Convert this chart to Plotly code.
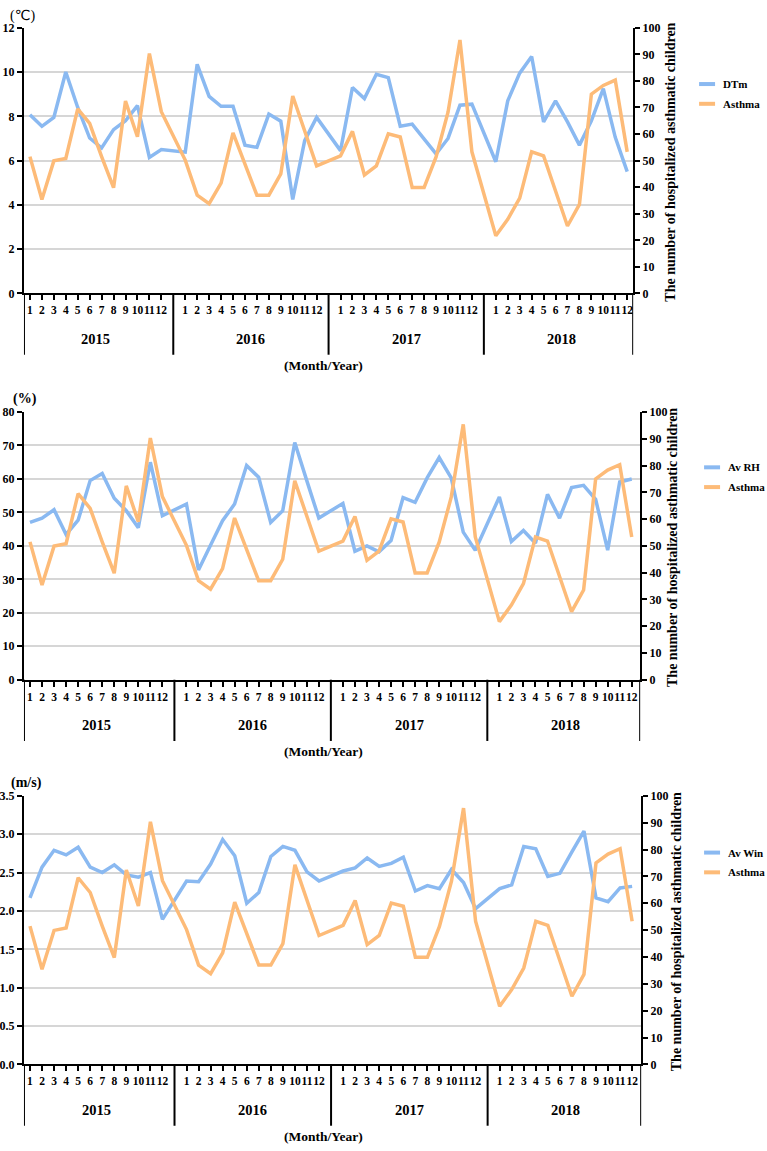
import plotly.graph_objects as go

# ---------------- data ----------------
years = [2015, 2016, 2017, 2018]
months = list(range(1, 13))

dtm = [8.07, 7.55, 7.95, 10.0, 8.4, 7.02, 6.57, 7.4, 7.8, 8.48, 6.14, 6.5,
       6.38, 10.35, 8.9, 8.45, 8.45, 6.7, 6.6, 8.1, 7.78, 4.25, 6.9, 7.95,
       6.45, 9.3, 8.8, 9.9, 9.75, 7.55, 7.65, 7.0, 6.3, 7.0, 8.5, 8.55,
       5.95, 8.7, 9.95, 10.7, 7.75, 8.7, 7.75, 6.7, 7.8, 9.25, 7.05, 5.5]

rh = [47.0, 48.3, 50.8, 43.4, 47.7, 59.5, 61.6, 54.2, 50.5, 45.4, 65.0, 49.0,
      52.5, 32.8, 40.2, 47.5, 52.5, 64.0, 60.5, 47.0, 50.5, 70.9, 59.5, 48.3,
      52.7, 38.4, 40.0, 38.2, 41.6, 54.4, 53.0, 60.3, 66.4, 60.3, 44.1, 38.7,
      54.6, 41.3, 44.6, 40.8, 55.4, 48.3, 57.4, 58.1, 53.9, 38.7, 59.1, 60.0]

win = [2.17, 2.57, 2.79, 2.73, 2.83, 2.57, 2.50, 2.60, 2.47, 2.44, 2.50, 1.89,
       2.39, 2.38, 2.61, 2.93, 2.72, 2.10, 2.24, 2.71, 2.84, 2.79, 2.51, 2.39,
       2.52, 2.56, 2.69, 2.58, 2.62, 2.70, 2.26, 2.33, 2.29, 2.54, 2.37, 2.03,
       2.29, 2.34, 2.84, 2.81, 2.45, 2.49, 2.77, 3.04, 2.17, 2.12, 2.30, 2.32]

asthma = [51.5, 35.4, 49.9, 50.8, 69.5, 64.0, 51.5, 39.8, 72.4, 59.0, 90.3, 68.4,
          50.2, 37.0, 33.8, 41.5, 60.4, 49.0, 37.0, 37.0, 45.0, 74.3, 61.5, 48.0,
          51.8, 61.0, 44.6, 48.0, 60.1, 58.9, 39.9, 39.9, 51.4, 68.2, 95.4, 53.3,
          21.7, 27.9, 35.9, 53.3, 51.8, 38.4, 25.4, 33.5, 75.0, 78.3, 80.3, 53.3]

series_names = ["DTm", "Av RH", "Av Win"]
unit_labels = ["(℃)", "(%)", "(m/s)"]
asthma_name = "Asthma"
right_title = "The number of hospitalized asthmatic children"
x_title = "(Month/Year)"

# ---------------- styling / layout ----------------
W, H = 767, 1151
FONT = "'Liberation Serif', 'Times New Roman', Times, serif"
BLUE = "#8AB9F1"
ORANGE = "#FDBB78"
GRID = "#D6D6D6"

SLOTS_PER_YEAR = 13  # 12 months + one empty slot between years
xpos = [yi * SLOTS_PER_YEAR + (m - 1) for yi in range(len(years)) for m in months]
month_text = [str(m) for _ in years for m in months]


def py(p):
    return 1 - p / H


def pxx(p):
    return p / W


panels = [
    dict(vals=dtm, yr=[0, 12], dtick=2, fmt="", top=21, bot=290, left=23, right=633,
         xmax=50.5, unit_xy=(22, 9), leg_y=(78, 98), leg_x=699, title_x=670),
    dict(vals=rh, yr=[0, 80], dtick=10, fmt="", top=410, bot=681, left=23, right=640,
         xmax=50.7, unit_xy=(24, 397), leg_y=(466, 486), leg_x=704, title_x=673),
    dict(vals=win, yr=[0, 3.5], dtick=0.5, fmt=".1f", top=798.5, bot=1070.5, left=23, right=641,
         xmax=50.75, unit_xy=(26, 786), leg_y=(856, 876), leg_x=704, title_x=676),
]

fig = go.Figure()
layout = dict(width=W, height=H, autosize=False,
              margin=dict(l=0, r=0, t=0, b=0),
              paper_bgcolor="white", plot_bgcolor="white",
              font=dict(family=FONT, color="black"),
              showlegend=False, shapes=[], annotations=[])

tickfont = dict(family=FONT, size=12, color="black", weight="bold")

for i, p in enumerate(panels):
    xn = "" if i == 0 else str(i + 1)
    yl = str(2 * i + 1) if i > 0 else ""
    yr_ = str(2 * i + 2)
    xaxis_key = "xaxis" + xn
    yl_key = "yaxis" + yl
    yr_key = "yaxis" + yr_
    xref = "x" + xn
    ylref = "y" + yl
    yrref = "y" + yr_

    fig.add_trace(go.Scatter(x=xpos, y=p["vals"], mode="lines", name=series_names[i],
                             line=dict(color=BLUE, width=3.5),
                             xaxis=xref, yaxis=ylref))
    fig.add_trace(go.Scatter(x=xpos, y=asthma, mode="lines", name=asthma_name,
                             line=dict(color=ORANGE, width=3.5),
                             xaxis=xref, yaxis=yrref))

    ydom = [py(p["bot"]), py(p["top"])]
    layout[xaxis_key] = dict(domain=[pxx(p["left"]), pxx(p["right"])],
                             range=[-0.5, p["xmax"]], anchor=ylref,
                             tickmode="array", tickvals=xpos, ticktext=month_text,
                             tickangle=0, ticks="outside", ticklen=5, tickwidth=2,
                             tickcolor="black", showline=True, linecolor="black",
                             linewidth=2, showgrid=False, zeroline=False,
                             tickfont=dict(family=FONT, size=11.5, color="black", weight="bold"))
    layout[yl_key] = dict(domain=ydom, range=p["yr"], dtick=p["dtick"], tick0=0,
                          tickformat=p["fmt"], anchor=xref, side="left",
                          ticks="outside", ticklen=5, tickwidth=2, tickcolor="black",
                          showline=True, linecolor="black", linewidth=2,
                          showgrid=True, gridcolor=GRID, gridwidth=1.5,
                          zeroline=False, tickfont=tickfont)
    layout[yr_key] = dict(domain=ydom, range=[0, 100], dtick=10, tick0=0,
                          anchor=xref, overlaying=ylref, side="right",
                          ticks="outside", ticklen=5, tickwidth=2, tickcolor="black",
                          showline=True, linecolor="black", linewidth=2,
                          showgrid=False, zeroline=False, tickfont=tickfont)

    # year brackets
    xmin, xmax = -0.5, p["xmax"]
    seps = [xmin] + [yi * SLOTS_PER_YEAR - 1 for yi in range(1, len(years))] + [xmax]
    for sx in seps:
        layout["shapes"].append(dict(type="line", xref=xref, yref="paper",
                                     x0=sx, x1=sx, y0=py(p["bot"]), y1=py(p["bot"] + 62),
                                     line=dict(color="black", width=2)))
    for yi, yv in enumerate(years):
        layout["annotations"].append(dict(xref=xref, yref="paper",
                                          x=yi * SLOTS_PER_YEAR + 5.5, y=py(p["bot"] + 46),
                                          text=str(yv), showarrow=False,
                                          xanchor="center", yanchor="middle",
                                          font=dict(family=FONT, size=14.5, color="black", weight="bold")))
    layout["annotations"].append(dict(xref="paper", yref="paper",
                                      x=pxx(323), y=py(p["bot"] + 73), text=x_title,
                                      showarrow=False, xanchor="center", yanchor="middle",
                                      font=dict(family=FONT, size=13.5, color="black", weight="bold")))
    # unit label
    ux, uy = p["unit_xy"]
    layout["annotations"].append(dict(xref="paper", yref="paper", x=pxx(ux), y=py(uy),
                                      text=unit_labels[i], showarrow=False,
                                      xanchor="center", yanchor="middle",
                                      font=dict(family=FONT + ", 'DejaVu Sans'", size=14, color="black",
                                                weight="normal" if i == 0 else "bold")))
    # right axis title
    layout["annotations"].append(dict(xref="paper", yref="paper", x=pxx(p["title_x"]),
                                      y=py((p["top"] + p["bot"]) / 2 + 2), text=right_title,
                                      textangle=-90, showarrow=False,
                                      xanchor="center", yanchor="middle",
                                      font=dict(family=FONT, size=14, color="black", weight="bold")))
    # legend (drawn manually for exact placement)
    lx = p["leg_x"]
    for name, col, ly in [(series_names[i], BLUE, p["leg_y"][0]), (asthma_name, ORANGE, p["leg_y"][1])]:
        layout["shapes"].append(dict(type="line", xref="paper", yref="paper",
                                     x0=pxx(lx), x1=pxx(lx + 16), y0=py(ly), y1=py(ly),
                                     line=dict(color=col, width=4)))
        layout["annotations"].append(dict(xref="paper", yref="paper", x=pxx(lx + 22), y=py(ly),
                                          text=name, showarrow=False, xanchor="left",
                                          yanchor="middle",
                                          font=dict(family=FONT, size=11, color="black", weight="bold")))

fig.update_layout(**layout)
fig.write_html("out.html")
